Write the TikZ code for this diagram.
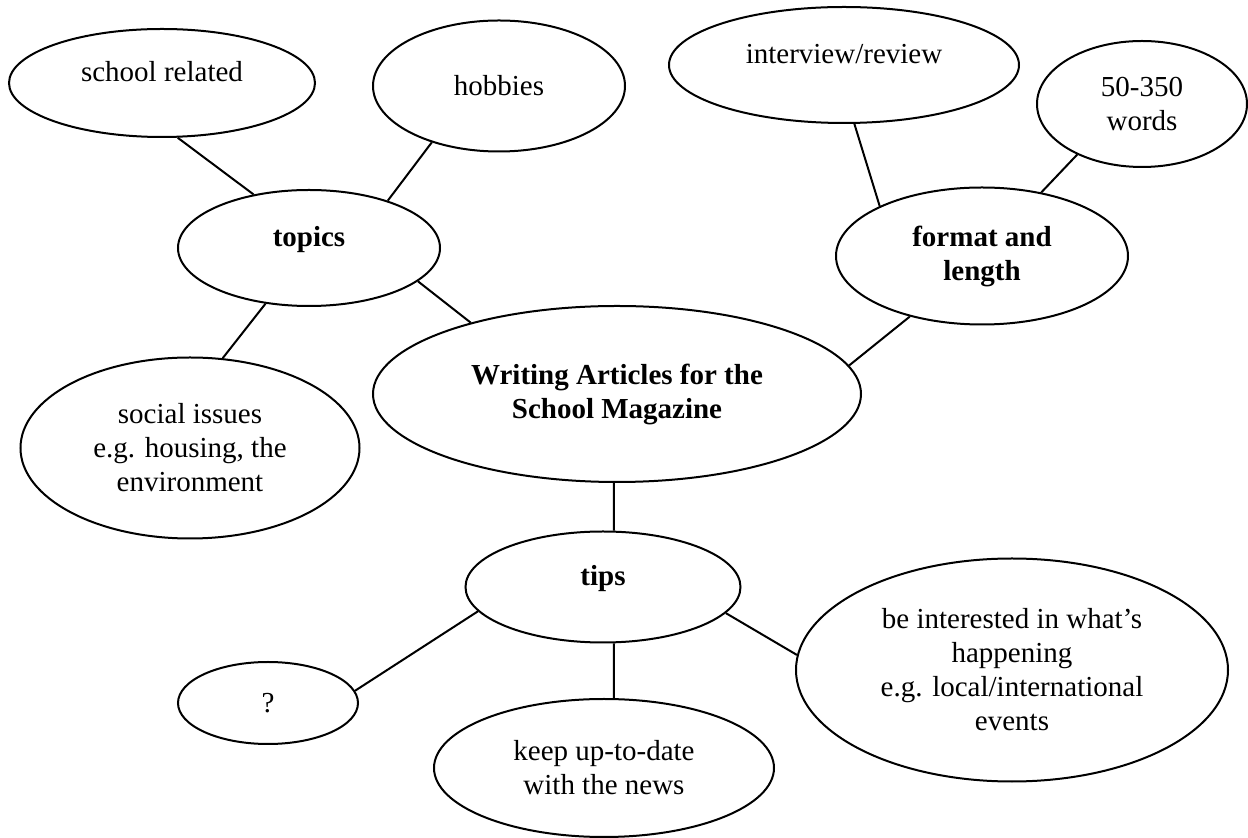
\documentclass[tikz,border=0pt]{standalone}
\usepackage{fontspec}
\setmainfont{Liberation Serif}
\usepackage{tikz}
\usetikzlibrary{shapes.geometric}

\begin{document}
\begin{tikzpicture}[
				x=0.4pt, y=-0.4pt,
				bubble/.style = {
					ellipse, draw,
					line width=0.8pt,
					inner sep=0pt,
					align=center,
					font=\fontsize{11.6}{13.6}\selectfont
				},
				hub/.style = {
					bubble,
					font=\fontsize{11.6}{13.6}\selectfont\bfseries
				},
				lifted/.style = {
					text height=8pt, text depth=9pt
				},
				link/.style = {
					line width=0.8pt
				}
			]
				\useasboundingbox (0,0) rectangle (1248,838);
				% centre
				\node[hub, minimum width=195.2pt, minimum height=70.4pt] (main) at (617,394)
					{Writing Articles for the\\School Magazine};
				% topics
				\node[hub, lifted, minimum width=104.8pt, minimum height=46.4pt] (topics) at (309,248) {topics};
				\node[bubble, lifted, minimum width=122.4pt, minimum height=43.2pt] (school) at (162,83) {school related};
				\node[bubble, minimum width=100.8pt, minimum height=52.4pt] (hobbies) at (499,86) {hobbies};
				\node[bubble, minimum width=135.6pt, minimum height=72.4pt] (social) at (190,448)
					{social issues\\e.g. housing, the\\environment};
				% format and length
				\node[hub, minimum width=116.8pt, minimum height=54.8pt] (format) at (982,256) {format and\\length};
				\node[bubble, lifted, minimum width=140pt, minimum height=46.4pt] (review) at (844,65) {interview/review};
				\node[bubble, minimum width=84pt, minimum height=50.4pt] (words) at (1142,104) {50-350\\words};
				% tips
				\node[hub, lifted, minimum width=110pt, minimum height=44.4pt] (tips) at (603,587) {tips};
				\node[bubble, minimum width=72pt, minimum height=32.8pt] (unknown) at (268,703) {?};
				\node[bubble, minimum width=136pt, minimum height=55.2pt] (news) at (604,768)
					{keep up-to-date\\with the news};
				\node[bubble, minimum width=172.8pt, minimum height=89.2pt] (events) at (1012,670)
					{be interested in what’s\\happening\\e.g. local/international\\events};
				\draw[link] (school.-74.5) -- (topics.136);
				\draw[link] (hobbies.-140) -- (topics.31.6);
				\draw[link] (topics.-128.7) -- (social.70.4);
				\draw[link] (topics.-17.3) -- (main.154.2);
				\draw[link] (review.-80.4) -- (format.154.6);
				\draw[link] (words.-142.9) -- (format.47.4);
				\draw[link] (format.-140.1) -- (main.7.1);
				\draw[link] (main.-92.6) -- (tips.79.9);
				\draw[link] (tips.-169.1) -- (unknown.8.5);
				\draw[link] (tips.-79.7) -- (news.82.6);
				\draw[link] (tips.-12.8) -- (events.176.8);
			\end{tikzpicture}
\end{document}
